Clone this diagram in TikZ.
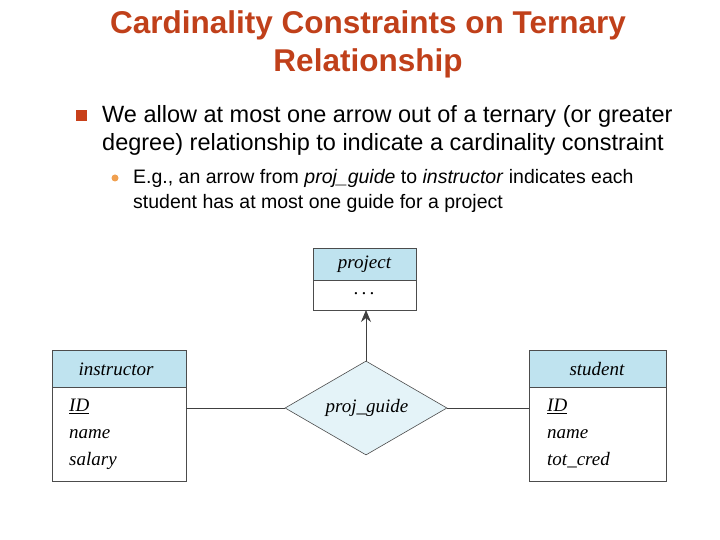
\documentclass[tikz,border=0pt]{standalone}
\usepackage{fontspec}
\setmainfont{Liberation Sans}
\newfontfamily\erfont{Liberation Serif}
\usetikzlibrary{shapes.geometric,arrows.meta}
\definecolor{titlec}{HTML}{C0401A}
\definecolor{hdr}{HTML}{BFE3EF}
\definecolor{dia}{HTML}{E4F3F8}
\definecolor{bul}{HTML}{C8401A}
\definecolor{dot}{HTML}{F0A050}
\tikzset{
  hbox/.style={draw=black!70,fill=hdr,line width=0.6pt},
  bbox/.style={draw=black!70,fill=white,line width=0.6pt},
  ertxt/.style={font=\erfont\itshape\fontsize{19}{21}\selectfont,inner sep=0pt},
  attr/.style={font=\erfont\itshape\fontsize{19}{27}\selectfont,anchor=north west,align=left,inner sep=0pt},
  conn/.style={draw=black!75,line width=0.8pt},
  body/.style={anchor=west,inner sep=0pt,font=\fontsize{23.5}{28}\selectfont},
  sub/.style={anchor=west,inner sep=0pt,font=\fontsize{19.5}{25}\selectfont},
}
\begin{document}
\begin{tikzpicture}[x=1pt,y=-1pt]
\useasboundingbox (0,0) rectangle (720,540);
% title
\node[font=\bfseries\fontsize{31.5}{38}\selectfont,text=titlec,align=center] (title) at (368,44) {Cardinality Constraints on Ternary\\Relationship};
% bullets
\node[fill=bul,minimum size=11pt,inner sep=0pt] (b1) at (81,116) {};
\node[body] (t1) at (102,116) {We allow at most one arrow out of a ternary (or greater};
\node[body] (t2) at (102,144) {degree) relationship to indicate a cardinality constraint};
\node[circle,fill=dot,minimum size=7pt,inner sep=0pt] (b2) at (115,178) {};
\node[sub] (s1) at (133,178) {E.g., an arrow from \textit{proj\_guide} to \textit{instructor} indicates each};
\node[sub] (s2) at (133,203) {student has at most one guide for a project};
% project
\draw[hbox] (313,248) rectangle (416,280);
\draw[bbox] (313,280) rectangle (416,310);
\node[ertxt] (proj) at (364.5,264) {project};
\node[ertxt] (dots) at (364.5,294) {.\,.\,.};
\coordinate (projb) at (366,310);
% instructor
\draw[hbox] (52,350) rectangle (186,387);
\draw[bbox] (52,387) rectangle (186,481);
\node[ertxt] (inst) at (116,369) {instructor};
\node[attr] (ia) at (69,399) {\underline{ID}\\name\\salary};
\coordinate (instr) at (186,408);
% student
\draw[hbox] (529,350) rectangle (666,387);
\draw[bbox] (529,387) rectangle (666,481);
\node[ertxt] (stud) at (597,369) {student};
\node[attr] (sa) at (547,399) {\underline{ID}\\name\\tot\_cred};
\coordinate (studl) at (529,408);
% diamond
\node[diamond,draw=black!70,fill=dia,line width=0.6pt,minimum width=162pt,minimum height=94pt,inner sep=0pt,aspect=1.72] (pg) at (366,408) {};
\node[ertxt] (pgl) at (367,408) {proj\_guide};
\draw[conn] (instr) -- (pg.west);
\draw[conn] (pg.east) -- (studl);
\draw[conn,-{Stealth[length=12pt,width=10pt]}] (pg.north) -- (projb);
\end{tikzpicture}
\end{document}
